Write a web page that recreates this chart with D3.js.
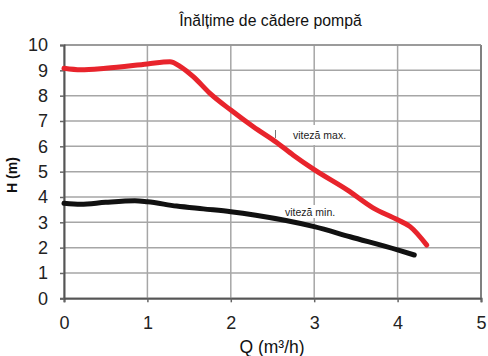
<!DOCTYPE html>
<html><head><meta charset="utf-8">
<script src="https://cdn.jsdelivr.net/npm/d3@7/dist/d3.min.js"></script>
<style>body{margin:0;background:#fff}svg{display:block}text{font-family:"Liberation Sans",Arial,sans-serif}</style>
</head><body>
<script>
const title = "Înălțime de cădere pompă";
const xTicks = [0, 1, 2, 3, 4, 5];
const yTicks = [0, 1, 2, 3, 4, 5, 6, 7, 8, 9, 10];
const maxQ = [0, 0.2, 0.5, 1.0, 1.27, 1.4, 1.55, 1.75, 2.0, 2.27, 2.55, 2.75, 3.0, 3.4, 3.7, 4.0, 4.15, 4.35];
const maxH = [9.08, 9.02, 9.08, 9.25, 9.34, 9.14, 8.75, 8.09, 7.43, 6.77, 6.15, 5.65, 5.08, 4.27, 3.58, 3.1, 2.83, 2.1];
const minQ = [0, 0.2, 0.5, 0.85, 1.0, 1.35, 1.67, 2.0, 2.3, 3.0, 3.43, 4.0, 4.2];
const minH = [3.75, 3.71, 3.79, 3.85, 3.81, 3.64, 3.53, 3.42, 3.28, 2.83, 2.43, 1.91, 1.71];
const labelMax = "viteză max.";
const labelMin = "viteză min.";

const W = 488, H = 356;
const m = {l: 64, r: 7, t: 45, b: 57.7};
const svg = d3.select("body").append("svg").attr("width", W).attr("height", H);
const x = d3.scaleLinear().domain([0, 5]).range([m.l, W - m.r]);
const y = d3.scaleLinear().domain([0, 10]).range([H - m.b, m.t]);

// gridlines
const g = svg.append("g");
g.selectAll(".gx").data(xTicks).join("line")
  .attr("x1", d => x(d)).attr("x2", d => x(d)).attr("y1", y(0)).attr("y2", y(10))
  .attr("stroke", "#a6a6a6").attr("stroke-width", 1.5);
g.selectAll(".gy").data(yTicks).join("line")
  .attr("x1", x(0)).attr("x2", x(5)).attr("y1", d => y(d)).attr("y2", d => y(d))
  .attr("stroke", "#a6a6a6").attr("stroke-width", 1.5);
// frame
svg.append("line").attr("x1", x(5)).attr("x2", x(5)).attr("y1", y(0)).attr("y2", y(10)).attr("stroke", "#808080").attr("stroke-width", 2);
svg.append("line").attr("x1", x(0)).attr("x2", x(5)).attr("y1", y(10)).attr("y2", y(10)).attr("stroke", "#909090").attr("stroke-width", 1.5);

// axes
const ax = svg.append("g").attr("transform", `translate(0,${y(0)})`)
  .call(d3.axisBottom(x).tickValues(xTicks).tickSize(4).tickPadding(14).tickFormat(d3.format("d")));
const ay = svg.append("g").attr("transform", `translate(${x(0)},0)`)
  .call(d3.axisLeft(y).tickValues(yTicks).tickSize(4).tickPadding(12).tickFormat(d3.format("d")));
[ax, ay].forEach(a => {
  a.select(".domain").attr("stroke", "#555").attr("stroke-width", 2);
  a.selectAll(".tick line").attr("stroke", "#666").attr("stroke-width", 1.5);
  a.selectAll("text").attr("font-size", 18).attr("fill", "#222")
    .style("font-family", "'Liberation Sans',Arial,sans-serif");
});

// label boxes
svg.append("rect").attr("x", 276).attr("y", 125).attr("width", 84).attr("height", 20).attr("fill", "#fff");
svg.append("line").attr("x1", 275.5).attr("x2", 275.5).attr("y1", 130).attr("y2", 138).attr("stroke", "#777").attr("stroke-width", 1);
svg.append("rect").attr("x", 282).attr("y", 205).attr("width", 60).attr("height", 13).attr("fill", "#fff");

// curves
const line = d3.line().x(d => x(d[0])).y(d => y(d[1])).curve(d3.curveMonotoneX);
svg.append("path").datum(minQ.map((q, i) => [q, minH[i]])).attr("d", line)
  .attr("fill", "none").attr("stroke", "#111").attr("stroke-width", 5).attr("stroke-linecap", "round").attr("stroke-linejoin", "round");
svg.append("path").datum(maxQ.map((q, i) => [q, maxH[i]])).attr("d", line)
  .attr("fill", "none").attr("stroke", "#e8242c").attr("stroke-width", 5).attr("stroke-linecap", "round").attr("stroke-linejoin", "round");

// labels
svg.append("text").attr("x", 293).attr("y", 138.5).attr("font-size", 10.5).attr("fill", "#222").text(labelMax);
svg.append("text").attr("x", 285).attr("y", 215.5).attr("font-size", 10.5).attr("fill", "#222").text(labelMin);

// titles
svg.append("text").attr("x", 270.5).attr("y", 26).attr("text-anchor", "middle").attr("font-size", 15.8).attr("fill", "#111").text(title);
svg.append("text").attr("x", 272).attr("y", 353).attr("text-anchor", "middle").attr("font-size", 17.5).attr("fill", "#111").text("Q (m³/h)");
svg.append("text").attr("transform", "translate(17,175) rotate(-90)").attr("text-anchor", "middle")
  .attr("font-size", 14).attr("font-weight", "bold").attr("fill", "#111").text("H (m)");
</script>
</body></html>
